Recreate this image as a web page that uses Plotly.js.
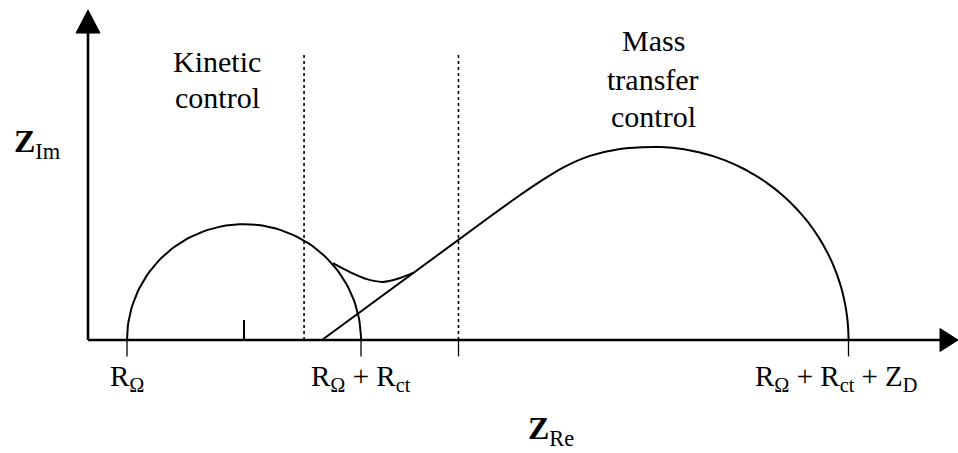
<!DOCTYPE html>
<html>
<head>
<meta charset="utf-8">
<script src="https://cdn.plot.ly/plotly-3.0.1.min.js"></script>
<style>
  html, body { margin: 0; padding: 0; background: #fff; }
  #chart { width: 958px; height: 453px; }
</style>
</head>
<body>
<div id="chart"></div>
<script>
// --- values (Z units, 1 unit = RΩ) ---
const R_ohm = 1;
const R_ct = 6;
const Z_D = 12.5;
const kinTop = 2.97;               // height of the kinetic semicircle

// Warburg line and its rounding into the mass-transfer arc
const diffX = [6.0, 10.4, 11.0, 11.59, 12.18, 12.87, 13.64, 14.5];
const diffY = [0.0, 3.23, 3.66, 4.06, 4.42, 4.72, 4.90, 4.95];
const massTop = 4.95;

// bend from the semicircle down into the Warburg line
const bridgeX = [6.28, 6.72, 7.15, 7.56, 8.0, 8.33];
const bridgeY = [1.97, 1.74, 1.56, 1.49, 1.59, 1.72];

// dotted region borders
const borderX = [5.54, 9.5];
const borderTop = 7.36;

// ticks on the real axis
const tickVals = [R_ohm, R_ohm + R_ct, 9.5, R_ohm + R_ct + Z_D];
const tickText = ['R<sub>Ω</sub>', 'R<sub>Ω</sub> + R<sub>ct</sub>', '', 'R<sub>Ω</sub> + R<sub>ct</sub> + Z<sub>D</sub>'];
const tickLabelX = [1, 7, null, 19.2];

// region captions, one entry per text line
const kinLines = ['Kinetic', 'control'];
const kinLineY = [7.15, 6.21];
const massLines = ['Mass', 'transfer', 'control'];
const massLineY = [7.67, 6.69, 5.74];

const xRange = [-2.2564, 22.3077];
const yRange = [-2.8974, 8.7179];
const yAxisTop = 8.0;

const black = '#000';
const serif = 'Liberation Serif';

// semicircle points
function arc(cx, rx, ry, a0, a1, n) {
  const xs = [], ys = [];
  for (let i = 0; i <= n; i++) {
    const a = a0 + (a1 - a0) * i / n;
    xs.push(cx + rx * Math.cos(a));
    ys.push(ry * Math.sin(a));
  }
  return { x: xs, y: ys };
}

const kin = arc(R_ohm + R_ct / 2, R_ct / 2, kinTop, Math.PI, 0, 80);
const massEnd = R_ohm + R_ct + Z_D;
const massCx = diffX[diffX.length - 1];
const mass = arc(massCx, massEnd - massCx, massTop, Math.PI / 2, 0, 40);

const line = (w, dash) => ({ color: black, width: w, dash: dash || 'solid' });
const traces = [];

// axes
traces.push({ x: [0, 0], y: [0, yAxisTop], mode: 'lines', line: line(2.6) });
traces.push({ x: [0, xRange[1] - 0.4], y: [0, 0], mode: 'lines', line: line(2.6) });

// kinetic semicircle + centre mark
traces.push({ x: kin.x, y: kin.y, mode: 'lines', line: line(2) });
traces.push({ x: [R_ohm + R_ct / 2, R_ohm + R_ct / 2], y: [0, 0.51], mode: 'lines', line: line(2) });

// bend between the two regimes
traces.push({ x: bridgeX, y: bridgeY, mode: 'lines', line: Object.assign(line(2), { shape: 'spline' }) });

// Warburg line running into the mass transfer arc
traces.push({
  x: diffX.concat(mass.x.slice(1)),
  y: diffY.concat(mass.y.slice(1)),
  mode: 'lines', line: Object.assign(line(2), { shape: 'spline', smoothing: 0.8 })
});

// dotted borders
borderX.forEach(bx => {
  traces.push({ x: [bx, bx], y: [0, borderTop], mode: 'lines', line: line(1.6, 'dot') });
});

// ticks below the axis
tickVals.forEach(tv => {
  traces.push({ x: [tv, tv], y: [0, -0.42], mode: 'lines', line: line(1.3) });
});

const annotations = [];
const label = (x, y, text, size) => annotations.push({
  x: x, y: y, text: text, showarrow: false,
  xanchor: 'center', yanchor: 'middle',
  font: { family: serif, size: size, color: black }
});

tickVals.forEach((tv, i) => {
  if (tickText[i]) label(tickLabelX[i], -0.97, tickText[i], 29);
});

const span = t => '<span style="font-family:Liberation Serif">' + t + '</span>';
kinLines.forEach((t, i) => label(3.31, kinLineY[i], span(t), 30));
massLines.forEach((t, i) => label(14.49, massLineY[i], span(t), 30));

// axis titles
label(-1.3, 5.03, '<b>Z</b><sub>Im</sub>', 32);
label(11.87, -2.31, '<b>Z</b><sub>Re</sub>', 32);

// arrow heads (pixel-sized, anchored to the axis ends)
const shapes = [
  {
    type: 'path', xref: 'x', yref: 'y',
    xsizemode: 'pixel', ysizemode: 'pixel',
    xanchor: 0, yanchor: 8.46,
    path: 'M -12,-23 L 12,-23 L 0,0 Z',
    fillcolor: black, line: { color: black, width: 1 }
  },
  {
    type: 'path', xref: 'x', yref: 'y',
    xsizemode: 'pixel', ysizemode: 'pixel',
    xanchor: xRange[1], yanchor: 0,
    path: 'M -18,11.5 L -18,-11.5 L 0,0 Z',
    fillcolor: black, line: { color: black, width: 1 }
  }
];

const layout = {
  width: 958, height: 453,
  margin: { l: 0, r: 0, t: 0, b: 0 },
  paper_bgcolor: '#fff', plot_bgcolor: '#fff',
  showlegend: false,
  font: { family: serif },
  xaxis: { range: xRange, visible: false, fixedrange: true },
  yaxis: { range: yRange, visible: false, fixedrange: true },
  annotations: annotations,
  shapes: shapes
};

Plotly.newPlot('chart', traces, layout, { displayModeBar: false, staticPlot: true });
</script>
</body>
</html>
